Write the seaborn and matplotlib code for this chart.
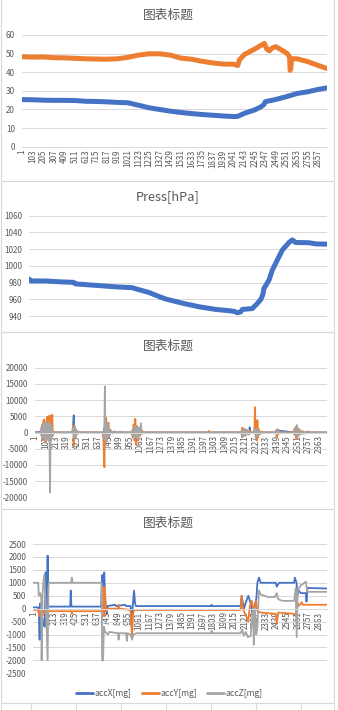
import matplotlib
matplotlib.use("Agg")
import pandas as pd
import matplotlib.pyplot as plt
from matplotlib.lines import Line2D
import seaborn as sns

#===============================================================
#        SENSOR LOG - four stacked spreadsheet-style charts
#===============================================================

N_SAMPLES = 2940

# Panel 1: temperature (blue) and humidity (orange)
temp_idx = [1, 103, 205, 307, 409, 511, 613, 715, 817, 919, 1021, 1123, 1225, 1327, 1429,
            1531, 1633, 1735, 1837, 1939, 2041, 2080, 2143, 2245, 2300, 2330, 2347, 2449,
            2551, 2653, 2755, 2857, 2940]
temp_val = [25.3, 25.2, 25.0, 24.9, 24.9, 24.8, 24.4, 24.3, 24.1, 23.8, 23.6, 22.3, 20.9,
            20.0, 19.1, 18.4, 17.8, 17.3, 16.9, 16.5, 16.2, 16.3, 17.9, 19.8, 21.3, 22.5,
            24.2, 25.4, 26.9, 28.6, 29.5, 30.8, 31.6]

hum_idx = [1, 103, 205, 307, 409, 511, 613, 715, 817, 919, 1021, 1123, 1225, 1327, 1429,
           1531, 1633, 1735, 1837, 1939, 2041, 2080, 2095, 2143, 2245, 2300, 2337, 2360,
           2385, 2417, 2449, 2500, 2551, 2580, 2585, 2592, 2600, 2653, 2755, 2857, 2940]
hum_val = [48.3, 48.1, 48.2, 47.8, 47.7, 47.5, 47.2, 47.1, 47.0, 47.2, 48.0, 49.2, 49.9,
           49.9, 49.2, 47.6, 47.0, 45.9, 45.0, 44.4, 44.3, 43.6, 46.5, 49.5, 52.5, 54.3,
           55.5, 52.5, 51.5, 53.2, 53.7, 52.0, 50.3, 48.3, 41.0, 42.3, 47.3, 47.2, 45.7,
           43.6, 42.0]

# Panel 2: pressure [hPa]
press_idx = [1, 15, 159, 300, 440, 456, 687, 850, 1017, 1050, 1182, 1281, 1347, 1512, 1677,
             1842, 1974, 2030, 2056, 2090, 2106, 2205, 2254, 2290, 2310, 2320, 2370, 2403,
             2452, 2502, 2568, 2601, 2634, 2766, 2832, 2940]
press_val = [984, 982, 982, 981, 980.3, 978.5, 976.5, 975, 974, 972.7, 968.3, 963.5, 960.5,
             955.5, 951.2, 948, 946.5, 945.5, 944, 945, 948, 949, 955, 960, 966, 973, 983,
             995, 1007, 1019, 1028, 1031, 1028, 1027.7, 1026.3, 1026]

# Panel 3: raw acceleration bursts
raw_x_idx = [1, 60, 80, 100, 120, 150, 180, 380, 391, 395, 405, 430, 690, 705, 720, 740, 980,
             1010, 1030, 1070, 1090, 2080, 2120, 2160, 2164, 2170, 2220, 2235, 2260, 2430,
             2450, 2620, 2640, 2660, 2780, 2940]
raw_x_val = [0, 300, -800, 1200, -1500, 1000, 0, 0, 5300, -500, 1200, 0, 0, 2000, -1500, 0, 0,
             1500, -1000, 800, 0, 0, 800, -500, 1600, 0, 0, 1500, 0, 0, 600, 0, 900, 0, 0, 0]

raw_y_idx = [1, 60, 68, 75, 78, 85, 94, 100, 108, 115, 122, 128, 135, 142, 150, 158, 166, 175,
             180, 185, 375, 385, 391, 398, 405, 415, 425, 435, 680, 690, 700, 706, 712, 718,
             726, 734, 742, 748, 755, 765, 780, 800, 820, 975, 985, 995, 1005, 1011, 1016,
             1021, 1030, 1040, 1050, 1060, 1075, 1085, 1745, 1753, 1760, 2080, 2090, 2100,
             2110, 2120, 2135, 2150, 2165, 2180, 2205, 2212, 2218, 2225, 2235, 2242, 2250,
             2258, 2268, 2280, 2300, 2420, 2430, 2437, 2445, 2455, 2465, 2605, 2615, 2625,
             2632, 2636, 2645, 2655, 2665, 2680, 2700, 2720, 2750, 2775, 2940]
raw_y_val = [0, 0, -1000, 2500, -2400, 3500, 4000, -2000, -3000, 2000, 4800, -2000, 5000,
             -1500, 5200, -2500, 4500, 5500, -1000, 0, 0, 2200, -4000, 1500, -800, 600, -500,
             0, 0, -2000, -10700, 1500, -3000, 4500, -2500, 2500, 3000, -1500, 1000, 500, 0,
             300, 0, 0, -1500, 2500, -2500, 4200, 1000, -3800, 2000, -2500, 1500, -1000, 500,
             0, 0, 500, 0, 0, 1500, -800, 1200, -1000, 800, -600, 500, 0, 0, 1000, 7800,
             -1000, -2500, 3800, -1500, 1000, -500, 300, 0, 0, 500, -1500, 1000, -500, 0, 0,
             1000, 1500, -800, -2000, 1000, -700, 1000, -500, 400, -300, 300, 0, 0]

raw_z_idx = [1, 55, 65, 72, 80, 88, 96, 104, 112, 120, 130, 140, 145, 152, 158, 165, 172, 180,
             190, 380, 388, 395, 402, 410, 418, 428, 440, 690, 698, 705, 710, 716, 722, 730,
             738, 746, 755, 765, 780, 800, 830, 860, 880, 975, 985, 995, 1005, 1015, 1025,
             1035, 1045, 1055, 1069, 1075, 1085, 2080, 2088, 2096, 2105, 2115, 2125, 2140,
             2155, 2170, 2205, 2215, 2225, 2235, 2245, 2255, 2270, 2290, 2420, 2432, 2440,
             2450, 2460, 2605, 2615, 2625, 2640, 2646, 2655, 2665, 2680, 2700, 2740, 2770, 2940]
raw_z_val = [0, 0, 1500, -2000, 2500, -1500, 3000, -2500, 3200, -2000, 2800, -2500, 3000,
             -18500, 2500, -2000, 1500, -500, 0, 0, 1500, -1500, 2000, -1500, 800, -400, 0, 0,
             -2000, 14200, -2500, 2000, -2800, 3000, -1500, 1200, -800, 600, -300, 300, 0, 300,
             0, 0, 1000, -2000, 2000, -1500, 1800, -2000, 1500, -1000, 2800, -500, 0, 0, -1500,
             1200, -1200, 1000, -800, 600, -400, 0, 0, 1200, -1500, 1000, -1200, 800, -500, 0,
             0, 800, -600, 500, 0, 0, -800, 1200, 2300, -1500, 1200, -800, 600, -400, 300, 0, 0]

# Panel 4: acceleration [mg]
acc_x_idx = [1, 50, 58, 64, 68, 80, 100, 115, 124, 135, 144, 150, 370, 376, 382, 680, 690, 700,
             712, 720, 735, 745, 820, 830, 920, 930, 975, 985, 995, 1010, 1020, 1030, 1780,
             1786, 1792, 2078, 2088, 2112, 2135, 2155, 2179, 2200, 2212, 2236, 2246, 2262,
             2279, 2430, 2440, 2463, 2614, 2621, 2638, 2646, 2658, 2681, 2732, 2738, 2748, 2940]
acc_x_val = [50, 50, -300, -1200, 200, -100, -600, -700, 1400, -200, 2050, 80, 80, 700, 80, 80,
             1300, 900, 1400, 400, -200, 100, 150, 100, 150, 100, 100, -700, 0, 700, 200, 100,
             100, 150, 100, 100, 500, 0, 300, 500, 200, -300, 0, 400, 1000, 1200, 1000, 1000,
             850, 1000, 1000, 1200, 1000, 500, 700, 600, 600, 270, 800, 780]

acc_y_idx = [1, 50, 60, 70, 90, 110, 130, 150, 380, 386, 392, 690, 700, 706, 712, 718, 726, 735,
             745, 850, 855, 860, 975, 990, 1000, 1010, 2078, 2088, 2100, 2135, 2155, 2170,
             2190, 2212, 2230, 2246, 2279, 2430, 2440, 2455, 2614, 2630, 2640, 2660, 2690,
             2700, 2940]
acc_y_val = [-50, -50, -300, 0, -250, -50, -300, -100, -100, -200, -100, -100, 200, 850, -300,
             800, 100, -100, 0, 0, 150, 0, -50, -1150, -200, -50, -50, 500, 0, -300, -500, 100,
             300, -200, 300, -100, -150, -200, -600, -150, -200, -300, 300, 100, 250, 150, 150]

acc_z_idx = [1, 50, 55, 70, 80, 84, 92, 101, 111, 118, 130, 144, 152, 158, 380, 386, 392, 685,
             690, 700, 708, 720, 750, 760, 850, 855, 862, 930, 939, 945, 975, 990, 1005, 1030,
             1780, 1786, 1792, 2078, 2095, 2110, 2130, 2150, 2180, 2195, 2205, 2210, 2220,
             2235, 2246, 2262, 2279, 2320, 2350, 2420, 2440, 2450, 2463, 2500, 2614, 2630,
             2640, 2650, 2680, 2700, 2732, 2745, 2940]
acc_z_val = [1000, 1000, 500, 600, 400, -2000, 500, 1000, 1300, 600, -200, -2000, 800, 1000,
             1000, 1200, 1000, 1000, -2000, -2000, -700, -900, -1000, -900, -950, -1200, -950,
             -950, -1250, -950, -1000, -1200, -1000, -950, -950, -850, -950, -950, -800, -1050,
             -900, -1100, -1050, -300, 0, -1400, 0, -1000, -700, 700, 550, 500, 450, 450, 600,
             400, 350, 300, 300, 800, -1100, 700, 900, 950, 1050, 650, 650]

# Tick labels of the category axes
ticks_top = list(range(1, N_SAMPLES + 1, 102))
ticks_acc = list(range(1, N_SAMPLES + 1, 106))
yticks_env = [0, 10, 20, 30, 40, 50, 60]
yticks_press = [940, 960, 980, 1000, 1020, 1040, 1060]
yticks_raw = [-20000, -15000, -10000, -5000, 0, 5000, 10000, 15000, 20000]
yticks_acc = [-2500, -2000, -1500, -1000, -500, 0, 500, 1000, 1500, 2000, 2500]

BLUE, ORANGE, GRAY = "#4472C4", "#ED7D31", "#A5A5A5"
GRID, TEXT = "#D9D9D9", "#595959"

sns.set_theme(style="white")
plt.rcParams["font.family"] = ["Noto Sans CJK SC", "DejaVu Sans"]
plt.rcParams["axes.unicode_minus"] = False

W, H = 338, 710
fig = plt.figure(figsize=(W / 100, H / 100), dpi=100)


def rect(left, top, right, bottom):
    return [left / W, 1 - bottom / H, (right - left) / W, (bottom - top) / H]


def long_df(parts):
    frames = [pd.DataFrame({"idx": i, "val": v, "series": name}) for name, i, v in parts]
    return pd.concat(frames, ignore_index=True)


def style_axes(ax, yticks, ylim, xticks=None, zero_axis=False):
    # spine position first: moving it resets the tick label styling
    if zero_axis:
        ax.spines["bottom"].set_position(("data", 0))
    ax.set_xlim(0.5, N_SAMPLES + 0.5)
    ax.set_ylim(*ylim)
    ax.set_yticks(yticks)
    ax.set_yticklabels([str(v) for v in yticks])
    ax.yaxis.grid(True, color=GRID, linewidth=0.7)
    ax.set_axisbelow(True)
    for side in ("top", "right", "left"):
        ax.spines[side].set_visible(False)
    ax.spines["bottom"].set_color(GRID)
    ax.spines["bottom"].set_linewidth(0.7)
    ax.tick_params(axis="y", length=0, pad=5, labelsize=5.8, labelcolor=TEXT)
    if xticks:
        ax.set_xticks(xticks)
        ax.set_xticklabels([str(v) for v in xticks], rotation=90)
        ax.tick_params(axis="x", length=0, pad=2, labelsize=5.8, labelcolor=TEXT)
    else:
        ax.set_xticks([])
        ax.spines["bottom"].set_visible(False)
    ax.set_xlabel("")
    ax.set_ylabel("")
    ax.patch.set_alpha(0)


# Panel 1
ax1 = fig.add_axes(rect(22, 35, 327, 146.7))
df1 = long_df([("temp", temp_idx, temp_val), ("hum", hum_idx, hum_val)])
sns.lineplot(data=df1, x="idx", y="val", hue="series", palette={"temp": BLUE, "hum": ORANGE},
             sort=False, estimator=None, linewidth=3.6, legend=False, ax=ax1)
style_axes(ax1, yticks_env, (0, 60), xticks=ticks_top)

# Panel 2
ax2 = fig.add_axes(rect(29.3, 215.7, 326.7, 332))
df2 = long_df([("press", press_idx, press_val)])
sns.lineplot(data=df2, x="idx", y="val", hue="series", palette={"press": BLUE},
             sort=False, estimator=None, linewidth=3.6, legend=False, ax=ax2)
style_axes(ax2, yticks_press, (921, 1060))

# Panel 3
ax3 = fig.add_axes(rect(35, 367.7, 326.7, 497.3))
df3 = long_df([("x", raw_x_idx, raw_x_val), ("y", raw_y_idx, raw_y_val),
               ("z", raw_z_idx, raw_z_val)])
sns.lineplot(data=df3, x="idx", y="val", hue="series",
             palette={"x": BLUE, "y": ORANGE, "z": GRAY},
             sort=False, estimator=None, linewidth=1.3, legend=False, ax=ax3)
style_axes(ax3, yticks_raw, (-20000, 20000), xticks=ticks_acc, zero_axis=True)

# Panel 4
ax4 = fig.add_axes(rect(33.3, 544, 326.7, 673.3))
df4 = long_df([("accX[mg]", acc_x_idx, acc_x_val), ("accY[mg]", acc_y_idx, acc_y_val),
               ("accZ[mg]", acc_z_idx, acc_z_val)])
pal4 = {"accX[mg]": BLUE, "accY[mg]": ORANGE, "accZ[mg]": GRAY}
sns.lineplot(data=df4, x="idx", y="val", hue="series", palette=pal4,
             sort=False, estimator=None, linewidth=1.3, legend=False, ax=ax4)
style_axes(ax4, yticks_acc, (-2500, 2500), xticks=ticks_acc, zero_axis=True)

handles = [Line2D([], [], color=c, linewidth=2) for c in pal4.values()]
fig.legend(handles, list(pal4.keys()), loc="center",
           bbox_to_anchor=(169.4 / W, 1 - 693.3 / H), ncol=3, frameon=False,
           fontsize=6.2, labelcolor=TEXT, handlelength=2.0, handletextpad=0.15,
           columnspacing=1.2)

# Chart titles
for title, y in [("图表标题", 15), ("Press[hPa]", 196.7), ("图表标题", 346.7), ("图表标题", 523.3)]:
    fig.text(168 / W, 1 - y / H, title, ha="center", va="center", fontsize=9.2, color=TEXT)

# Chart borders
for y in [181, 332, 508.5, 703]:
    fig.add_artist(Line2D([1 / W, 334 / W], [1 - y / H] * 2, color=GRID, linewidth=0.8))
for x in [1, 334]:
    fig.add_artist(Line2D([x / W] * 2, [0, 1], color=GRID, linewidth=0.8))

# Tick marks of the next chart, cut off at the bottom edge
ax5 = fig.add_axes(rect(30.7, 703, 300.7, 710))
ax5.set_xlim(0, 6)
ax5.set_xticks(range(7))
ax5.set_yticks([])
ax5.tick_params(axis="x", direction="in", top=True, bottom=False, labeltop=False,
                labelbottom=False, length=6, color=GRID, width=0.8)
for side in ax5.spines:
    ax5.spines[side].set_visible(False)
ax5.patch.set_alpha(0)

fig.savefig("out.png", dpi=100)
